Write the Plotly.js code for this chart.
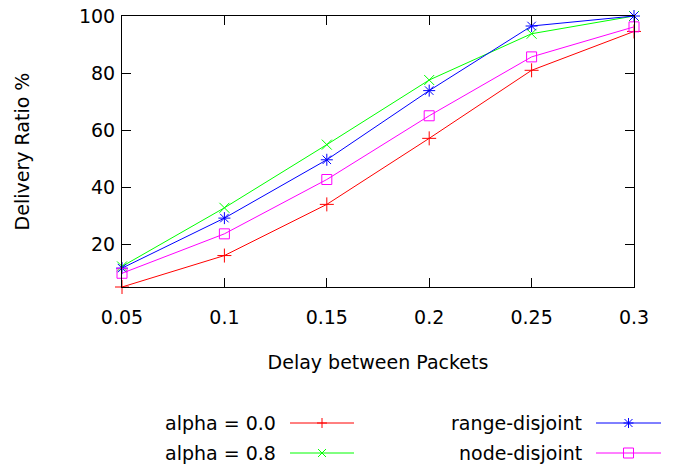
<!DOCTYPE html>
<html>
<head>
<meta charset="utf-8">
<script src="https://cdn.plot.ly/plotly-3.0.1.min.js"></script>
<style>html,body{margin:0;padding:0;background:#fff;}#chart{width:687px;height:466px;}</style>
</head>
<body>
<div id="chart"></div>
<script>
// ---- data ----
const delays = [0.05, 0.1, 0.15, 0.2, 0.25, 0.3];
const xTickLabels = ["0.05", "0.1", "0.15", "0.2", "0.25", "0.3"];
const yTickVals = [20, 40, 60, 80, 100];
const alpha00 = [5.2, 16.2, 34.1, 57.2, 81.0, 94.6];
const alpha08 = [12.4, 32.9, 55.0, 77.6, 93.8, 100];
const rangeDisjoint = [11.8, 29.3, 49.7, 73.9, 96.5, 100];
const nodeDisjoint = [10.0, 23.8, 42.8, 65.1, 85.7, 96.2];
const seriesNames = ["alpha = 0.0", "alpha = 0.8", "range-disjoint", "node-disjoint"];

// ---- styles ----
const FONT = "DejaVu Sans, sans-serif";
const FS = 19;
const colors = ["#ff0000", "#00ff00", "#0000ff", "#ff00ff"];
const symbols = ["cross-thin-open", "x-thin-open", "asterisk-open", "square-open"];
const values = [alpha00, alpha08, rangeDisjoint, nodeDisjoint];

const traces = values.map((v, i) => ({
  x: delays, y: v, name: seriesNames[i], type: "scatter", mode: "lines+markers",
  line: {color: colors[i], width: 1},
  marker: {symbol: symbols[i], size: 10, color: colors[i], line: {color: colors[i], width: 1}},
  cliponaxis: false, showlegend: false
}));

// plot area in pixels
const L = 122, R = 634, T = 16, B = 287;
const px = p => (p - L) / (R - L);
const py = p => (B - p) / (B - T);

// manual gnuplot-style legend
const legendPos = [
  {tx: 278, l0: 290, l1: 354, y: 423},
  {tx: 278, l0: 290, l1: 354, y: 453},
  {tx: 584, l0: 596, l1: 661, y: 423},
  {tx: 584, l0: 596, l1: 661, y: 453}
];
const shapes = [];
const annotations = [];
legendPos.forEach((p, i) => {
  const c = colors[i];
  shapes.push({type: "line", xref: "paper", yref: "paper", x0: px(p.l0), x1: px(p.l1), y0: py(p.y), y1: py(p.y), line: {color: c, width: 1}});
  const cx = px((p.l0 + p.l1) / 2), cy = py(p.y);
  const seg = (x0, y0, x1, y1) => shapes.push({type: "line", xref: "paper", yref: "paper", xsizemode: "pixel", ysizemode: "pixel", xanchor: cx, yanchor: cy, x0, y0, x1, y1, line: {color: c, width: 1}});
  if (i === 0 || i === 2) { seg(-5, 0, 5, 0); seg(0, -5, 0, 5); }
  if (i === 1 || i === 2) { seg(-4, -4, 4, 4); seg(-4, 4, 4, -4); }
  if (i === 3) {
    shapes.push({type: "rect", xref: "paper", yref: "paper", xsizemode: "pixel", ysizemode: "pixel", xanchor: cx, yanchor: cy, x0: -5, x1: 5, y0: -5, y1: 5, line: {color: c, width: 1}, fillcolor: "rgba(0,0,0,0)"});
  }
  annotations.push({xref: "paper", yref: "paper", x: px(p.tx), y: py(p.y), xanchor: "right", yanchor: "middle", text: seriesNames[i], showarrow: false, font: {family: FONT, size: FS, color: "#000"}});
});

const axisCommon = {
  showgrid: false, zeroline: false, showline: true, linecolor: "#000", linewidth: 1,
  mirror: "allticks", ticks: "inside", ticklen: 9, tickwidth: 1, tickcolor: "#000",
  tickfont: {family: FONT, size: FS, color: "#000"}
};

const layout = {
  width: 687, height: 466,
  margin: {l: L, r: 687 - R, t: T, b: 466 - B},
  paper_bgcolor: "#fff", plot_bgcolor: "#fff",
  showlegend: false,
  xaxis: Object.assign({}, axisCommon, {
    range: [0.05, 0.3], tickvals: delays, ticktext: xTickLabels,
    ticklabelstandoff: 13,
    title: {text: "Delay between Packets", font: {family: FONT, size: FS, color: "#000"}, standoff: 28}
  }),
  yaxis: Object.assign({}, axisCommon, {
    range: [alpha00[0], 100], tickvals: yTickVals,
    ticklabelstandoff: 2,
    title: {text: "Delivery Ratio %", font: {family: FONT, size: FS, color: "#000"}, standoff: 44}
  }),
  shapes, annotations
};

Plotly.newPlot("chart", traces, layout, {staticPlot: true, displayModeBar: false});
</script>
</body>
</html>
